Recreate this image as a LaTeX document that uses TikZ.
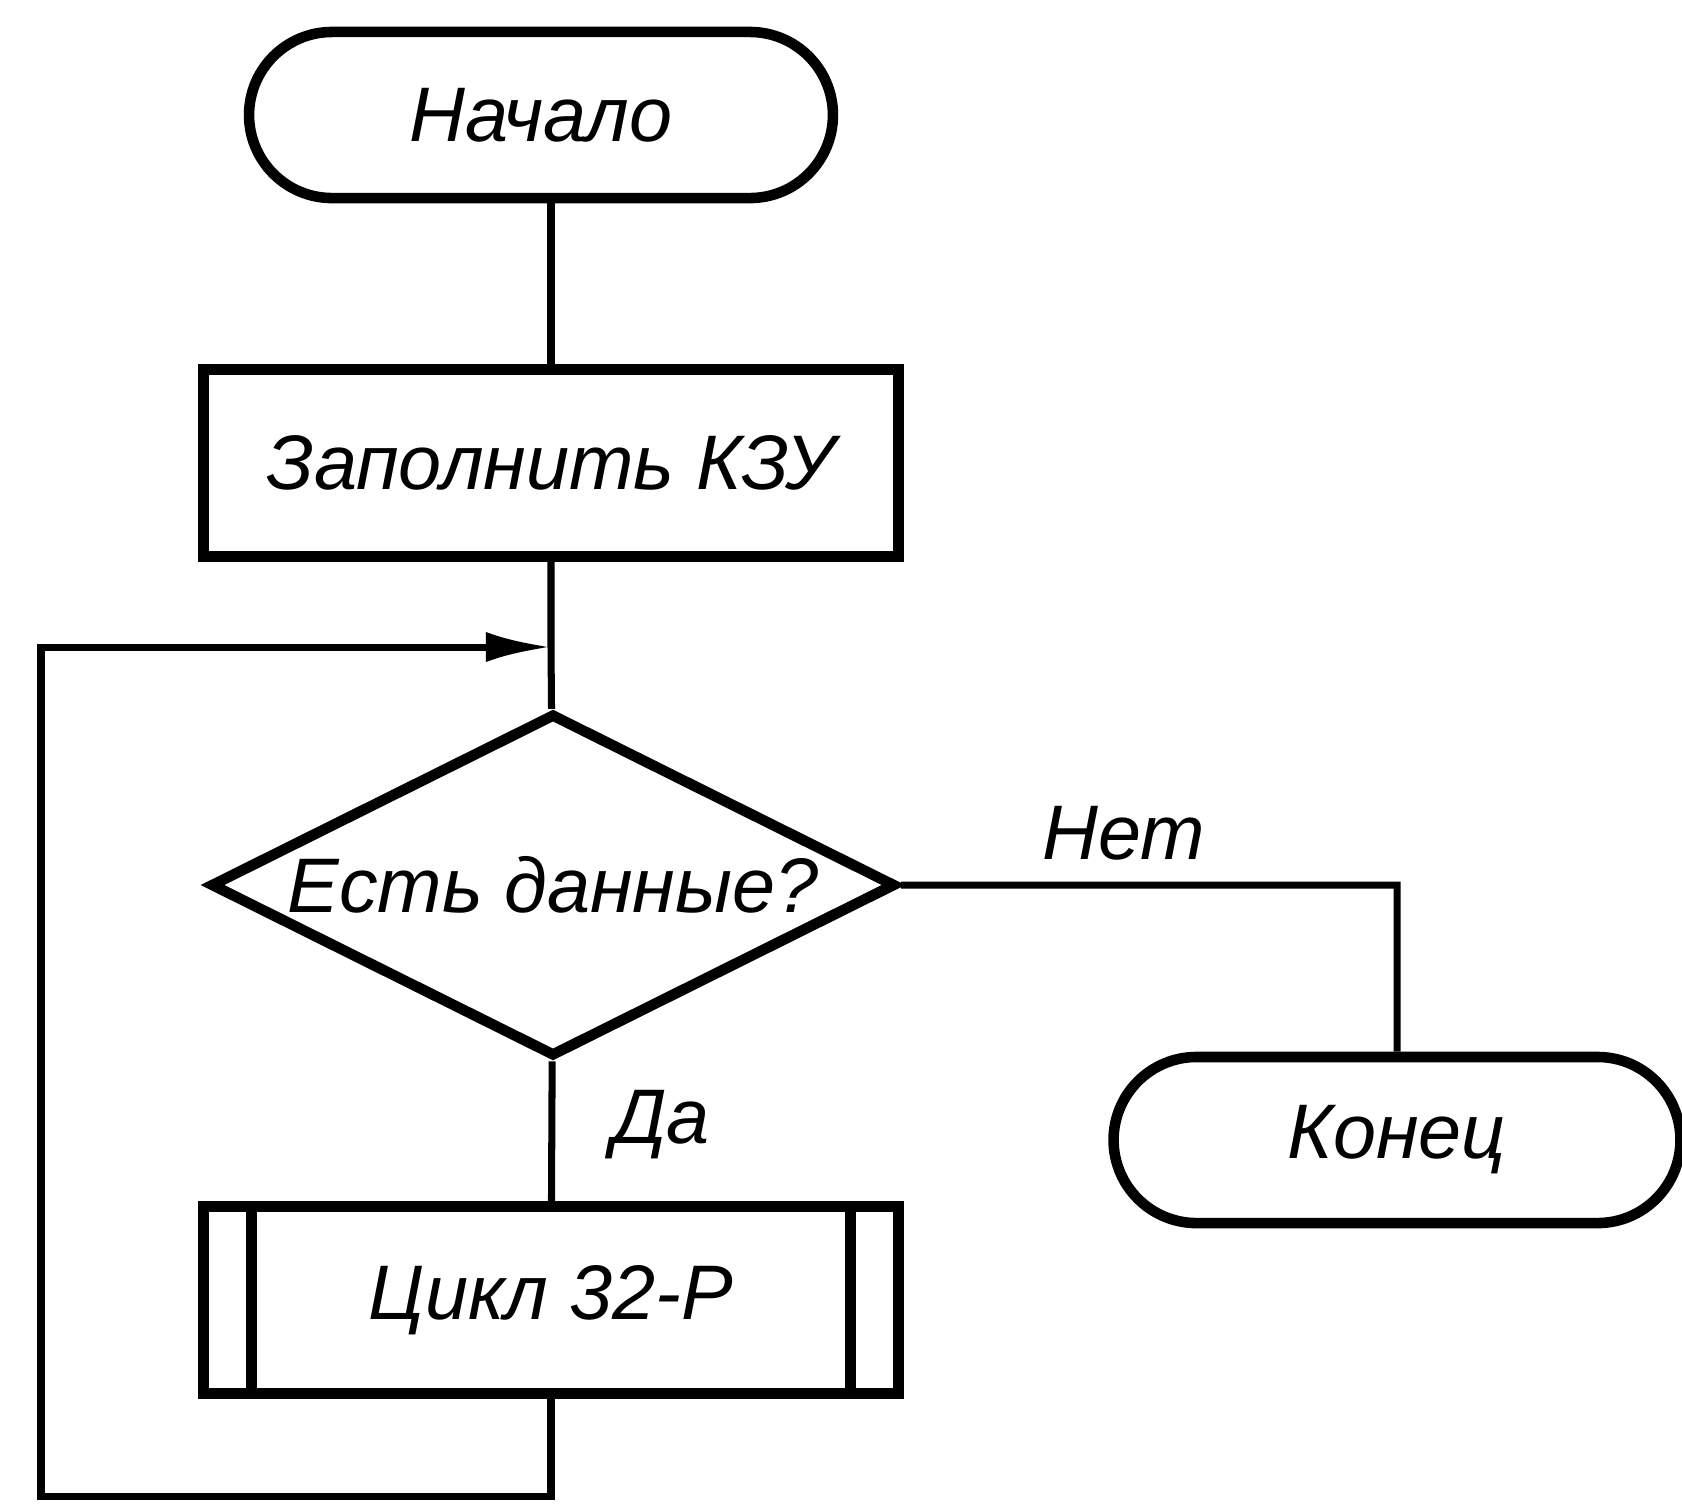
\documentclass[tikz,border=0pt]{standalone}
\usepackage{fontspec}
\setmainfont{Liberation Sans}
\usetikzlibrary{shapes.geometric,shapes.misc,arrows.meta}

\begin{document}
\begin{tikzpicture}[x=0.01cm,y=-0.01cm]
    \tikzset{txt/.style={font=\fontsize{22}{26}\selectfont\itshape},
             line/.style={line width=2pt},
             term/.style={txt,rounded rectangle,draw,fill=white,line width=3pt,minimum height=1.66cm},
             proc/.style={txt,rectangle,draw,fill=white,line width=3pt,minimum height=1.87cm,minimum width=6.95cm},
             test/.style={txt,diamond,draw,fill=white,line width=3pt,inner sep=0pt,aspect=2,minimum width=6.85cm,minimum height=3.43cm},
             subproc/.style={proc,path picture={
                 \draw[line width=3pt] ([xshift=0.48cm]path picture bounding box.north west) -- ([xshift=0.48cm]path picture bounding box.south west);
                 \draw[line width=3pt] ([xshift=-0.48cm]path picture bounding box.north east) -- ([xshift=-0.48cm]path picture bounding box.south east);}}}
    \useasboundingbox (0,0) rectangle (1682,1511);

    \node[term,minimum width=6.07cm] (Start) at (541,115) {Начало};
    \node[proc] (Fill) at (551,463) {Заполнить КЗУ};
    \node[test] (Test) at (553,885) {Есть данные?};
    \node[subproc] (Loop) at (551,1300) {Цикл 32-Р};
    \node[term,minimum width=5.9cm] (End) at (1397,1140) {Конец};
    \coordinate (join) at (551,647);
    \coordinate (corner) at (41,1496);

    \draw[line] (join |- Start.south) -- (Fill);
    \draw[line] (Fill) -- (join) -- (Test);
    \draw[line] (Test) -- node[txt,right=0.45cm,pos=0.45]{Да} (Loop);
    \draw[line] (Test.east) -- node[txt,above=0.1cm,pos=0.45]{Нет} (Test.east -| End) -- (End);
    \draw[line,-{Latex[length=6.5mm,width=3mm]}] (Loop) |- (corner) |- (join);
\end{tikzpicture}
\end{document}
